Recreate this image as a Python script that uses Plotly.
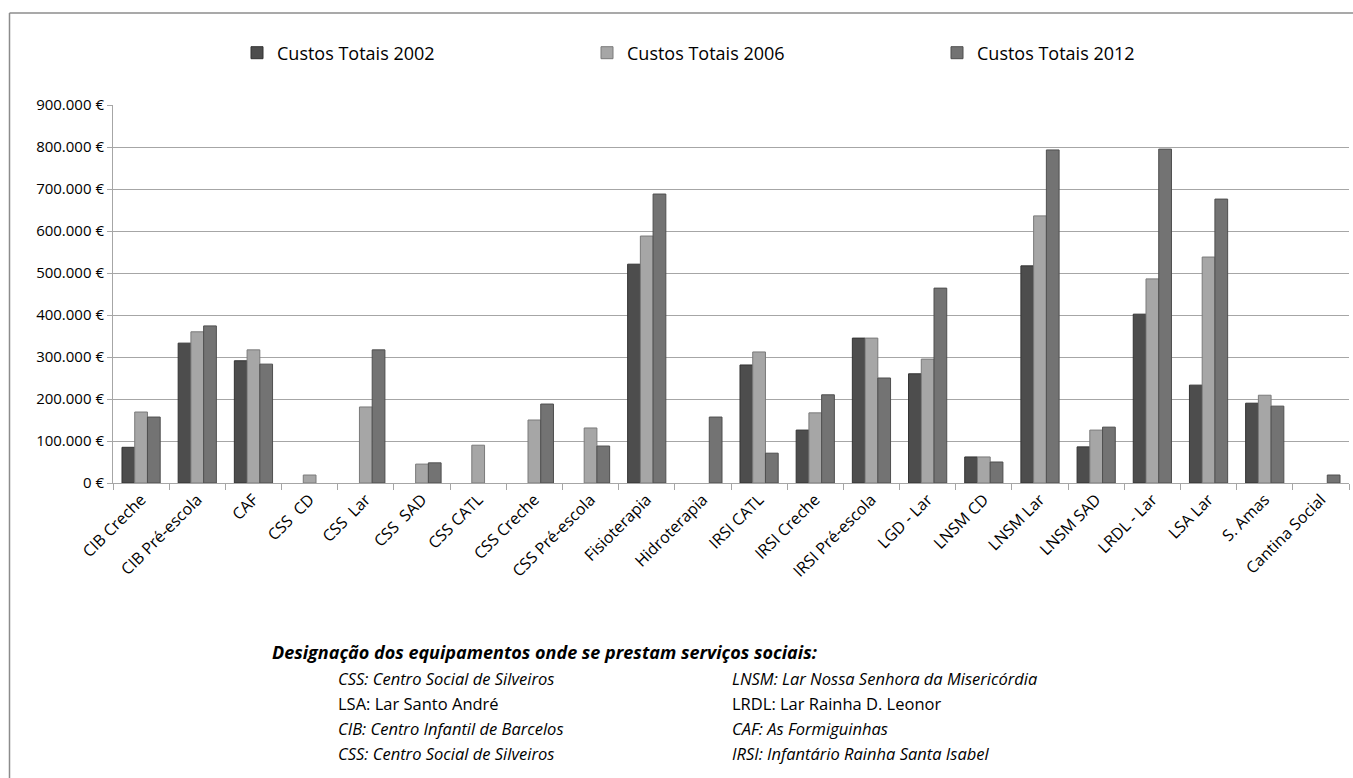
import plotly.graph_objects as go

categories = [
    "CIB Creche", "CIB Pré-escola", "CAF", "CSS  CD", "CSS  Lar", "CSS  SAD",
    "CSS CATL", "CSS Creche", "CSS Pré-escola", "Fisioterapia", "Hidroterapia",
    "IRSI CATL", "IRSI Creche", "IRSI Pré-escola", "LGD - Lar", "LNSM CD",
    "LNSM Lar", "LNSM SAD", "LRDL - Lar", "LSA Lar", "S. Amas", "Cantina Social",
]

custos_2002 = [85000, 333000, 291000, None, None, None, None, None, None, 521000, None,
               281000, 126000, 345000, 260000, 62000, 517000, 86000, 402000, 233000, 190000, None]
custos_2006 = [169000, 360000, 317000, 19000, 181000, 45000, 90000, 150000, 131000, 588000, None,
               312000, 167000, 345000, 295000, 62000, 636000, 126000, 486000, 538000, 209000, None]
custos_2012 = [157000, 374000, 283000, None, 317000, 48000, None, 188000, 88000, 688000, 157000,
               71000, 210000, 250000, 464000, 50000, 793000, 133000, 795000, 676000, 183000, 19000]

series_names = ["Custos Totais 2002", "Custos Totais 2006", "Custos Totais 2012"]
series_values = [custos_2002, custos_2006, custos_2012]
series_colors = ["#4d4d4d", "#a6a6a6", "#737373"]
series_lines = ["#333333", "#7a7a7a", "#4f4f4f"]

tick_values = list(range(0, 900001, 100000))
tick_labels = ["0 €"] + [f"{v // 1000}.000 €" for v in tick_values[1:]]

legend_lines = [
    ("<i>CSS: Centro Social de Silveiros</i>", "<i>LNSM: Lar Nossa Senhora da Misericórdia</i>"),
    ("LSA: Lar Santo André", "LRDL: Lar Rainha D. Leonor"),
    ("<i>CIB: Centro Infantil de Barcelos</i>", "<i>CAF: As Formiguinhas</i>"),
    ("<i>CSS: Centro Social de Silveiros</i>", "<i>IRSI: Infantário Rainha Santa Isabel</i>"),
]

FONT = "Open Sans"
W, H = 1353, 778
L, R, T, B = 113, 4, 105, 295
plot_h = H - T - B
plot_w = W - L - R


def py(ypx):
    return (H - B - ypx) / plot_h


def px(xpx):
    return (xpx - L) / plot_w


fig = go.Figure()
for name, vals, col, lc in zip(series_names, series_values, series_colors, series_lines):
    fig.add_trace(go.Bar(
        name=name, x=categories, y=vals,
        marker=dict(color=col, line=dict(color=lc, width=1)),
    ))

annotations = [dict(
    text="<b><i>Designação dos equipamentos onde se prestam serviços sociais:</i></b>",
    x=px(270), y=py(652), xref="paper", yref="paper", xanchor="left", yanchor="middle",
    showarrow=False, font=dict(family=FONT, size=18, color="#000000"),
)]
for i, (left, right) in enumerate(legend_lines):
    yy = py(678 + 25 * i)
    annotations.append(dict(text=left, x=px(336), y=yy, xref="paper", yref="paper",
                            xanchor="left", yanchor="middle", showarrow=False,
                            font=dict(family=FONT, size=16.5, color="#000000")))
    annotations.append(dict(text=right, x=px(730), y=yy, xref="paper", yref="paper",
                            xanchor="left", yanchor="middle", showarrow=False,
                            font=dict(family=FONT, size=16.5, color="#000000")))

fig.update_layout(
    width=W, height=H,
    margin=dict(l=L, r=R, t=T, b=B, autoexpand=False),
    paper_bgcolor="white", plot_bgcolor="white",
    barmode="group", bargap=0.32, bargroupgap=0.0,
    font=dict(family=FONT, size=14, color="#000000"),
    legend=dict(orientation="h", x=px(237), xanchor="left", y=py(53), yanchor="middle",
                entrywidth=305, entrywidthmode="pixels",
                font=dict(family=FONT, size=18, color="#000000"),
                itemwidth=30, traceorder="normal"),
    annotations=annotations,
    shapes=[dict(type="line", xref="paper", yref="paper",
                 x0=px(9.5), x1=px(W), y0=py(13), y1=py(13),
                 line=dict(color="#8c8c8c", width=1.5)),
            dict(type="line", xref="paper", yref="paper",
                 x0=px(9.5), x1=px(9.5), y0=py(13), y1=py(H),
                 line=dict(color="#8c8c8c", width=1.5))],
)

fig.update_yaxes(
    range=[0, 900000], tickvals=tick_values, ticktext=tick_labels,
    showgrid=True, gridcolor="#a6a6a6", gridwidth=1,
    showline=True, linecolor="#a6a6a6", linewidth=1,
    ticks="outside", ticklen=5, tickcolor="#a6a6a6",
    tickfont=dict(family=FONT, size=15, color="#000000"),
    zeroline=False,
)
fig.update_xaxes(
    tickangle=-45, showline=True, linecolor="#a6a6a6", linewidth=1,
    ticks="outside", ticklen=6, tickcolor="#a6a6a6", tickson="boundaries",
    tickfont=dict(family=FONT, size=16, color="#000000"),
)

fig.write_html("out.html")
